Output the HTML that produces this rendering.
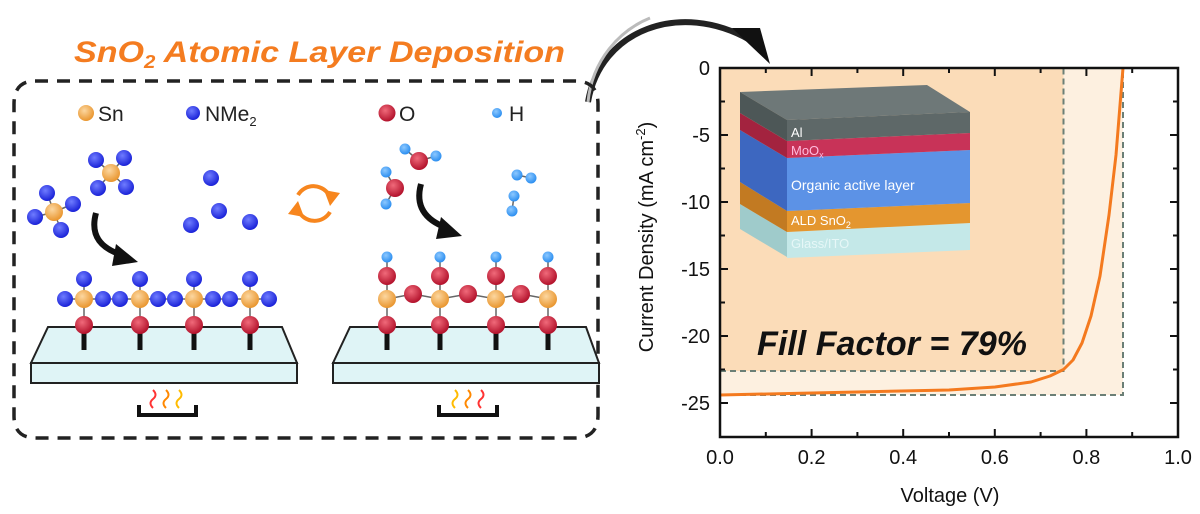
<!DOCTYPE html>
<html><head><meta charset="utf-8"><style>html,body{margin:0;padding:0;background:#fff;width:1200px;height:514px;overflow:hidden}</style></head>
<body>
<svg width="1200" height="514" viewBox="0 0 1200 514" xmlns="http://www.w3.org/2000/svg" font-family="Liberation Sans, sans-serif">
<defs>
<radialGradient id="gSn" cx="40%" cy="35%" r="65%"><stop offset="0" stop-color="#fcd7a0"/><stop offset="1" stop-color="#e9962f"/></radialGradient>
<radialGradient id="gN" cx="40%" cy="35%" r="65%"><stop offset="0" stop-color="#6f7cff"/><stop offset="1" stop-color="#1a22d8"/></radialGradient>
<radialGradient id="gO" cx="40%" cy="35%" r="65%"><stop offset="0" stop-color="#f06a7a"/><stop offset="1" stop-color="#b3122c"/></radialGradient>
<radialGradient id="gH" cx="40%" cy="35%" r="65%"><stop offset="0" stop-color="#8cc8ff"/><stop offset="1" stop-color="#2b8ef0"/></radialGradient>
</defs>

<text x="74" y="62" font-size="30" font-weight="bold" font-style="italic" fill="#f47c20" textLength="491" lengthAdjust="spacingAndGlyphs">SnO<tspan font-size="18" dy="6">2</tspan><tspan dy="-6"> Atomic Layer Deposition</tspan></text>

<path d="M588,102 C600,30 680,0 750,40" fill="none" stroke="#222" stroke-width="6"/>
<path d="M588,102 C592,60 620,30 650,18" fill="none" stroke="#bbb" stroke-width="3"/>
<polygon points="732,28 770,64 760,28" fill="#111"/>

<path d="M35,81 L575,81 Q598,81 598,104 L598,415 Q598,438 575,438 L36,438 Q14,438 14,416 L14,104 Q14,81 35,81 Z" fill="none" stroke="#222" stroke-width="3.5" stroke-dasharray="13,9"/>

<circle cx="86" cy="113" r="8" fill="url(#gSn)"/><text x="98" y="121" font-size="21" fill="#222">Sn</text>
<circle cx="193" cy="113" r="7" fill="url(#gN)"/><text x="205" y="121" font-size="21" fill="#222">NMe<tspan font-size="13" dy="5">2</tspan></text>
<circle cx="387" cy="113" r="8.5" fill="url(#gO)"/><text x="399" y="121" font-size="21" fill="#222">O</text>
<circle cx="497" cy="113" r="5" fill="url(#gH)"/><text x="509" y="121" font-size="21" fill="#222">H</text>

<g stroke="#222" stroke-width="2" fill="#dff4f6">
<polygon points="48,327 282,327 297,363 31,363"/>
<rect x="31" y="363" width="266" height="20"/>
<polygon points="350,327 586,327 599,363 333,363"/>
<rect x="333" y="363" width="266" height="20"/>
</g>
<g fill="none" stroke="#111" stroke-width="4">
<path d="M139,405 L139,415 L196,415 L196,405"/><path d="M439,405 L439,415 L497,415 L497,405"/>
</g>
<g fill="none" stroke-width="2">
<path d="M153,408 q-5,-5 0,-9 q5,-4 0,-9" stroke="#f33"/><path d="M166,408 q-5,-5 0,-9 q5,-4 0,-9" stroke="#f80"/><path d="M179,408 q-5,-5 0,-9 q5,-4 0,-9" stroke="#fb0"/>
<path d="M455,408 q-5,-5 0,-9 q5,-4 0,-9" stroke="#fb0"/><path d="M468,408 q-5,-5 0,-9 q5,-4 0,-9" stroke="#f80"/><path d="M481,408 q-5,-5 0,-9 q5,-4 0,-9" stroke="#f33"/>
</g>

<g stroke="#111" stroke-width="5">
<line x1="84" y1="325" x2="84" y2="350"/><line x1="140" y1="325" x2="140" y2="350"/><line x1="194" y1="325" x2="194" y2="350"/><line x1="250" y1="325" x2="250" y2="350"/>
<line x1="387" y1="325" x2="387" y2="350"/><line x1="440" y1="325" x2="440" y2="350"/><line x1="496" y1="325" x2="496" y2="350"/><line x1="548" y1="325" x2="548" y2="350"/>
</g>
<g stroke="#666" stroke-width="1.5">
<line x1="84" y1="279" x2="84" y2="325"/><line x1="140" y1="279" x2="140" y2="325"/><line x1="194" y1="279" x2="194" y2="325"/><line x1="250" y1="279" x2="250" y2="325"/>
<line x1="65" y1="299" x2="269" y2="299"/>
<line x1="387" y1="257" x2="387" y2="325"/><line x1="440" y1="257" x2="440" y2="325"/><line x1="496" y1="257" x2="496" y2="325"/><line x1="548" y1="257" x2="548" y2="325"/>
<polyline points="387,299 413,294 440,299 468,294 496,299 521,294 548,299" fill="none"/>
</g>
<g fill="url(#gN)">
<circle cx="84" cy="279" r="8"/><circle cx="140" cy="279" r="8"/><circle cx="194" cy="279" r="8"/><circle cx="250" cy="279" r="8"/>
<circle cx="65" cy="299" r="8"/><circle cx="103" cy="299" r="8"/><circle cx="120" cy="299" r="8"/><circle cx="158" cy="299" r="8"/><circle cx="175" cy="299" r="8"/><circle cx="213" cy="299" r="8"/><circle cx="230" cy="299" r="8"/><circle cx="269" cy="299" r="8"/>
</g>
<g fill="url(#gSn)">
<circle cx="84" cy="299" r="9"/><circle cx="140" cy="299" r="9"/><circle cx="194" cy="299" r="9"/><circle cx="250" cy="299" r="9"/>
<circle cx="387" cy="299" r="9"/><circle cx="440" cy="299" r="9"/><circle cx="496" cy="299" r="9"/><circle cx="548" cy="299" r="9"/>
</g>
<g fill="url(#gO)">
<circle cx="84" cy="325" r="9"/><circle cx="140" cy="325" r="9"/><circle cx="194" cy="325" r="9"/><circle cx="250" cy="325" r="9"/>
<circle cx="387" cy="325" r="9"/><circle cx="440" cy="325" r="9"/><circle cx="496" cy="325" r="9"/><circle cx="548" cy="325" r="9"/>
<circle cx="413" cy="294" r="9"/><circle cx="468" cy="294" r="9"/><circle cx="521" cy="294" r="9"/>
<circle cx="387" cy="276" r="9"/><circle cx="440" cy="276" r="9"/><circle cx="496" cy="276" r="9"/><circle cx="548" cy="276" r="9"/>
</g>
<g fill="url(#gH)">
<circle cx="387" cy="257" r="5.5"/><circle cx="440" cy="257" r="5.5"/><circle cx="496" cy="257" r="5.5"/><circle cx="548" cy="257" r="5.5"/>
</g>

<g stroke="#666" stroke-width="1.5">
<line x1="54" y1="212" x2="47" y2="193"/><line x1="54" y1="212" x2="73" y2="204"/><line x1="54" y1="212" x2="35" y2="217"/><line x1="54" y1="212" x2="61" y2="230"/>
<line x1="111" y1="173" x2="96" y2="160"/><line x1="111" y1="173" x2="124" y2="158"/><line x1="111" y1="173" x2="98" y2="188"/><line x1="111" y1="173" x2="126" y2="187"/>
<line x1="419" y1="161" x2="405" y2="149"/><line x1="419" y1="161" x2="436" y2="156"/>
<line x1="395" y1="188" x2="386" y2="172"/><line x1="395" y1="188" x2="386" y2="204"/>
<line x1="517" y1="175" x2="531" y2="178"/><line x1="514" y1="196" x2="512" y2="211"/>
</g>
<g fill="url(#gN)">
<circle cx="47" cy="193" r="8"/><circle cx="73" cy="204" r="8"/><circle cx="35" cy="217" r="8"/><circle cx="61" cy="230" r="8"/>
<circle cx="96" cy="160" r="8"/><circle cx="124" cy="158" r="8"/><circle cx="98" cy="188" r="8"/><circle cx="126" cy="187" r="8"/>
<circle cx="211" cy="178" r="8"/><circle cx="219" cy="211" r="8"/><circle cx="191" cy="225" r="8"/><circle cx="250" cy="222" r="8"/>
</g>
<circle cx="54" cy="212" r="9" fill="url(#gSn)"/><circle cx="111" cy="173" r="9" fill="url(#gSn)"/>
<circle cx="419" cy="161" r="9" fill="url(#gO)"/><circle cx="395" cy="188" r="9" fill="url(#gO)"/>
<g fill="url(#gH)">
<circle cx="405" cy="149" r="5.5"/><circle cx="436" cy="156" r="5.5"/><circle cx="386" cy="172" r="5.5"/><circle cx="386" cy="204" r="5.5"/>
<circle cx="517" cy="175" r="5.5"/><circle cx="531" cy="178" r="5.5"/><circle cx="514" cy="196" r="5.5"/><circle cx="512" cy="211" r="5.5"/>
</g>

<path d="M96,213 C90,235 100,248 122,255" fill="none" stroke="#111" stroke-width="6"/>
<polygon points="116,244 138,262 112,266" fill="#111"/>
<path d="M421,184 C415,206 425,220 447,228" fill="none" stroke="#111" stroke-width="6"/>
<polygon points="441,217 462,236 436,239" fill="#111"/>

<g fill="none" stroke="#f7861e" stroke-width="4">
<path d="M298,195 A18,18 0 0 1 330,197"/>
<path d="M330,212 A18,18 0 0 1 298,210"/>
</g>
<polygon points="324,190 340,193 330,206" fill="#f7861e"/>
<polygon points="304,217 288,214 298,201" fill="#f7861e"/>

<rect x="720" y="68" width="403" height="327" fill="#fdf0e0"/>
<rect x="720" y="68" width="343.5" height="303" fill="#fbdcb8"/>
<g stroke="#6b7f76" stroke-width="2" stroke-dasharray="6,4" fill="none">
<polyline points="720,371 1063.5,371 1063.5,68"/>
<polyline points="720,395 1123,395 1123,68"/>
</g>

<g>
<polygon points="740,229 787,257 787,232 740,204" fill="#9fcbcb"/>
<polygon points="787,232 970,223 970,250 787,258" fill="#c4e8e8"/>
<polygon points="740,182 787,211 787,232 740,204" fill="#c27a22"/>
<polygon points="787,211 970,203 970,223 787,232" fill="#e4962f"/>
<polygon points="740,130 787,158 787,211 740,182" fill="#3d67c0"/>
<polygon points="787,158 970,150 970,203 787,211" fill="#5c92e6"/>
<polygon points="740,113 787,141 787,158 740,130" fill="#a3233f"/>
<polygon points="787,141 970,133 970,150 787,158" fill="#c83358"/>
<polygon points="740,92 927,85 970,112 787,120" fill="#6e7878"/>
<polygon points="740,92 787,120 787,141 740,113" fill="#4d5757"/>
<polygon points="787,120 970,112 970,133 787,141" fill="#5e6868"/>
<g fill="#fff" font-size="13">
<text x="791" y="137">Al</text>
<text x="791" y="155" fill="#fbd">MoO<tspan font-size="9" dy="3">x</tspan></text>
<text x="791" y="190" font-size="14">Organic active layer</text>
<text x="791" y="225">ALD SnO<tspan font-size="9" dy="3">2</tspan></text>
<text x="791" y="248" fill="#e6f7f7">Glass/ITO</text>
</g>
</g>

<text x="757" y="355" font-size="34" font-weight="bold" font-style="italic" fill="#111" textLength="270" lengthAdjust="spacingAndGlyphs">Fill Factor = 79%</text>

<path d="M720,395 L857,392 L949,390 L995,387 L1031,382 L1050,376 L1063.5,369.5 L1073,360 L1082,343 L1091,316 L1100,276 L1109,215 L1116,155 L1123,68" fill="none" stroke="#f47a1f" stroke-width="3" stroke-linejoin="round"/>

<rect x="720" y="68" width="458" height="369" fill="none" stroke="#111" stroke-width="2.5"/>
<g stroke="#111" stroke-width="2">
<path d="M811.6,437v-8M903.2,437v-8M994.8,437v-8M1086.4,437v-8M811.6,68v8M903.2,68v8M994.8,68v8M1086.4,68v8"/>
<path d="M765.8,437v-5M857.4,437v-5M949,437v-5M1040.6,437v-5M1132.2,437v-5M765.8,68v5M857.4,68v5M949,68v5M1040.6,68v5M1132.2,68v5"/>
<path d="M720,135h8M720,202h8M720,269h8M720,336h8M720,403h8M1178,135h-8M1178,202h-8M1178,269h-8M1178,336h-8M1178,403h-8"/>
<path d="M720,101.5h5M720,168.5h5M720,235.5h5M720,302.5h5M720,369.5h5M1178,101.5h-5M1178,168.5h-5M1178,235.5h-5M1178,302.5h-5M1178,369.5h-5"/>
</g>
<g font-size="20" fill="#111" text-anchor="end">
<text x="710" y="75">0</text><text x="710" y="142">-5</text><text x="710" y="209">-10</text><text x="710" y="276">-15</text><text x="710" y="343">-20</text><text x="710" y="410">-25</text>
</g>
<g font-size="20" fill="#111" text-anchor="middle">
<text x="720" y="464">0.0</text><text x="811.6" y="464">0.2</text><text x="903.2" y="464">0.4</text><text x="994.8" y="464">0.6</text><text x="1086.4" y="464">0.8</text><text x="1178" y="464">1.0</text>
<text x="950" y="502">Voltage (V)</text>
<text transform="translate(653,237) rotate(-90)">Current Density (mA cm<tspan font-size="13" dy="-8">-2</tspan><tspan dy="8">)</tspan></text>
</g>
</svg>
</body></html>
